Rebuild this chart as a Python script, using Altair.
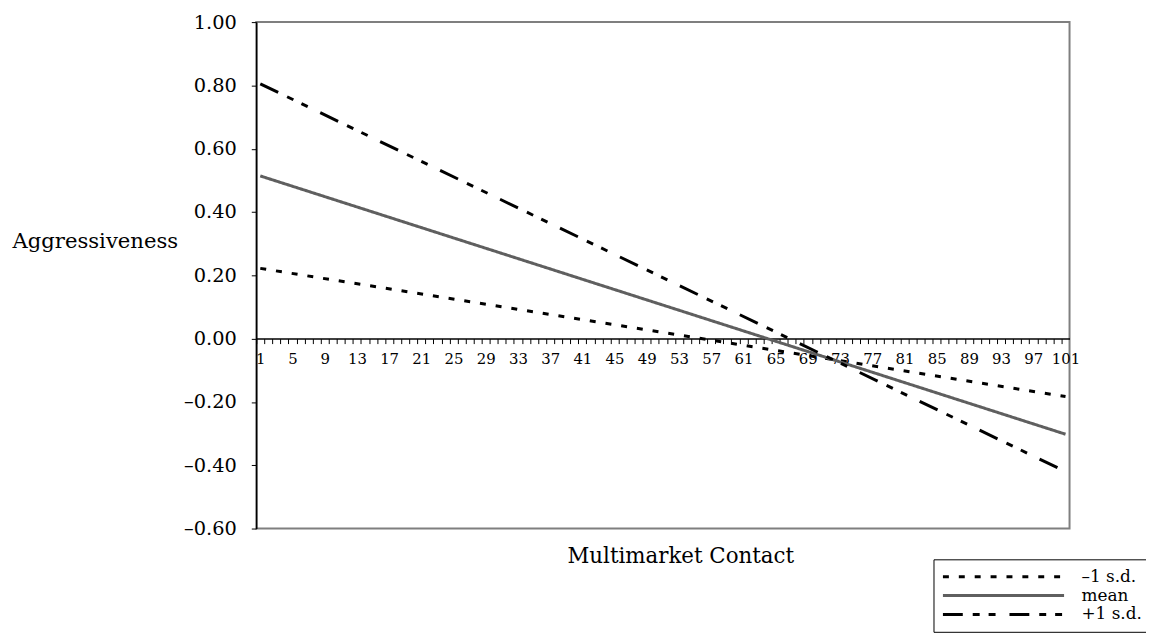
import altair as alt
import pandas as pd

# ---- data ----
series = ["–1 s.d.", "mean", "+1 s.d."]
x_ends = [1, 101]
minus1 = [0.222, -0.183]
mean_v = [0.514, -0.302]
plus1 = [0.805, -0.420]
y_ticks = [-0.6, -0.4, -0.2, 0.0, 0.2, 0.4, 0.6, 0.8, 1.0]
x_ticks = list(range(1, 103))

rows = []
for name, vals in zip(series, [minus1, mean_v, plus1]):
    for xv, yv in zip(x_ends, vals):
        rows.append({"series": name, "x": xv, "y": yv})
df = pd.DataFrame(rows)

FONT = "DejaVu Serif"
half = 819 / 101 / 2

y_label_expr = ("datum.value < 0 ? '\u2013' + format(-datum.value, '.2f') "
                ": format(datum.value, '.2f')")
x_label_expr = "((datum.value - 1) % 4 == 0 && datum.value <= 101) ? datum.label : ''"

chart = alt.Chart(df).mark_line(strokeWidth=3, strokeCap="butt").encode(
    x=alt.X("x:Q",
            scale=alt.Scale(domain=[0.5, 101.5], nice=False, zero=False),
            axis=alt.Axis(values=x_ticks, offset=-191.25,
                          tickOffset=-half, labelOffset=half,
                          labelExpr=x_label_expr, grid=False,
                          tickSize=5, tickColor="black", tickWidth=1,
                          domainColor="black", domainWidth=1.5,
                          labelPadding=8, labelFont=FONT, labelFontSize=15,
                          labelColor="black", labelFlush=False, labelOverlap=False,
                          title="Multimarket Contact", titleFont=FONT,
                          titleFontSize=21.5, titleFontWeight="normal",
                          titleColor="black", titleX=427, titleY=219,
                          titleAlign="center", titleBaseline="middle")),
    y=alt.Y("y:Q",
            scale=alt.Scale(domain=[-0.6, 1.0], nice=False, zero=False),
            axis=alt.Axis(values=y_ticks, labelExpr=y_label_expr, grid=False,
                          tickSize=5, tickColor="black", tickWidth=1,
                          domainColor="black", domainWidth=1.5,
                          labelPadding=15, labelFont=FONT, labelFontSize=19.5,
                          labelColor="black",
                          title="Aggressiveness", titleFont=FONT,
                          titleFontSize=21.3, titleFontWeight="normal",
                          titleColor="black", titleAngle=0,
                          titleX=-246, titleY=221, titleAlign="left",
                          titleBaseline="middle")),
    color=alt.Color("series:N",
                    scale=alt.Scale(domain=series, range=["#000000", "#5f5f5f", "#000000"]),
                    legend=alt.Legend(title=None)),
    strokeDash=alt.StrokeDash("series:N",
                              scale=alt.Scale(domain=series,
                                              range=[[6, 10], [1, 0], [20, 10, 7, 9, 7, 14]]),
                              legend=alt.Legend(title=None)),
).properties(
    width=819, height=510,
    autosize=alt.AutoSizeParams(type="none"),
    padding={"left": 250, "top": 12, "right": 77, "bottom": 103},
).configure_view(
    stroke="#7f7f7f", strokeWidth=2
).configure_legend(
    orient="none", legendX=682, legendY=541,
    strokeColor="black", fillColor="white", padding=8,
    symbolType="stroke", symbolSize=14884, symbolStrokeWidth=3,
    clipHeight=19, rowPadding=0,
    labelFont=FONT, labelFontSize=17, labelColor="black", labelOffset=16,
)

chart.save("out.html", embed_options={"renderer": "svg", "actions": False})
